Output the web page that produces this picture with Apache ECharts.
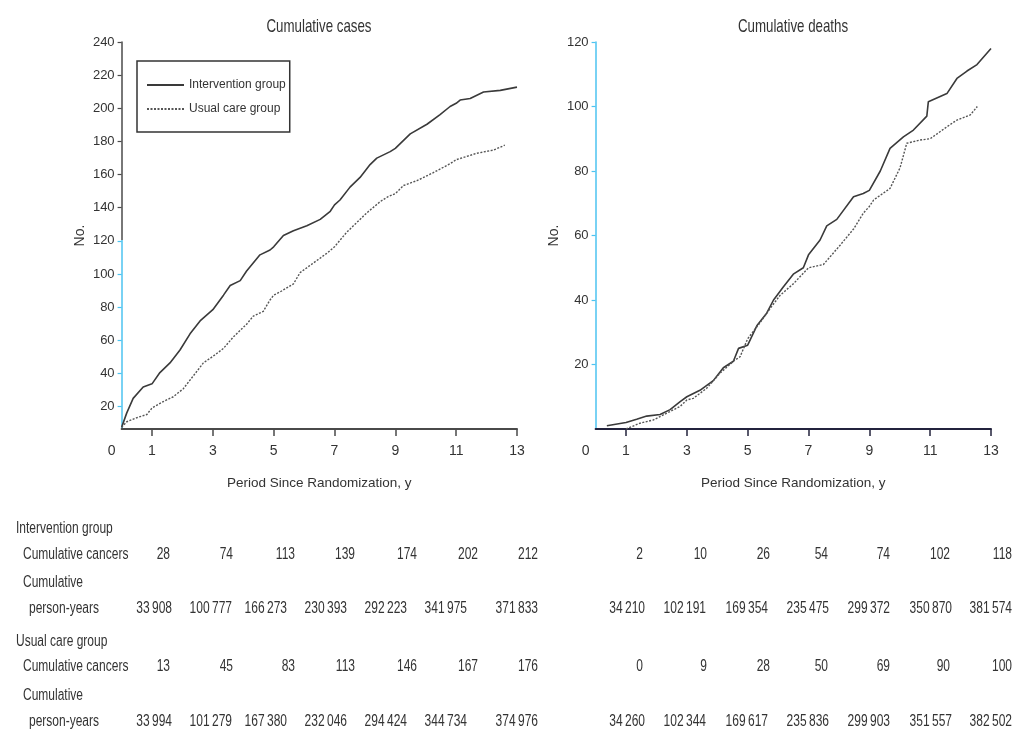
<!DOCTYPE html>
<html>
<head>
<meta charset="utf-8">
<script src="https://cdn.jsdelivr.net/npm/echarts@6/dist/echarts.min.js"></script>
<style>
  html, body { margin: 0; padding: 0; background: #ffffff; }
  #chart { width: 1015px; height: 743px; }
</style>
</head>
<body>
<div id="chart"></div>
<script>
// ---- Cumulative cases (years since randomization, count) ----
const casesInterventionYears = [0, 0.17, 0.38, 0.71, 1, 1.26, 1.59, 1.92, 2.25, 2.58, 3, 3.35, 3.57, 3.9, 4.11, 4.55, 4.88, 5, 5.32, 5.65, 6.09, 6.53, 6.86, 7, 7.18, 7.51, 7.84, 8.17, 8.39, 8.83, 9, 9.16, 9.49, 10.04, 10.47, 10.8, 11, 11.13, 11.46, 11.9, 12.45, 13];
const casesInterventionCounts = [1, 10, 19, 26, 28, 35, 41, 49, 59, 67, 74, 83, 89, 92, 98, 108, 111, 113, 120, 123, 126, 130, 135, 139, 142, 150, 156, 164, 168, 172, 174, 177, 183, 189, 195, 200, 202, 204, 205, 209, 210, 212];

const casesUsualYears = [0, 0.17, 0.5, 0.83, 1, 1.37, 1.7, 2.03, 2.36, 2.69, 3, 3.35, 3.67, 4.11, 4.33, 4.66, 4.88, 5, 5.21, 5.65, 5.87, 6.31, 6.75, 7, 7.4, 7.73, 8.06, 8.5, 8.75, 9, 9.27, 9.71, 10.25, 10.8, 11, 11.68, 12.23, 12.6];
const casesUsualCounts = [1, 4.5, 7, 9, 13, 17, 20, 25, 33, 41, 45, 50, 57, 65, 70, 73, 80, 83, 85, 90, 97, 103, 109, 113, 122, 128, 134, 141, 144, 146, 151, 154, 159, 164.5, 167, 171, 173, 176];

// ---- Cumulative deaths ----
const deathsInterventionYears = [0.37, 1, 1.35, 1.68, 2.12, 2.45, 2.78, 3, 3.43, 3.87, 4.2, 4.53, 4.7, 5, 5.3, 5.63, 5.85, 6.17, 6.5, 6.83, 7, 7.38, 7.6, 7.93, 8.48, 8.8, 9, 9.36, 9.68, 10.12, 10.45, 10.89, 10.94, 11, 11.55, 11.88, 12.21, 12.54, 13];
const deathsInterventionCounts = [1, 2, 3, 4, 4.5, 6, 8.5, 10, 12, 15, 19, 21, 25, 26, 32, 36, 40, 44, 48, 50, 54, 58.6, 63, 65, 72, 73, 74, 80, 87, 90.6, 92.7, 97, 101.5, 102, 104, 108.7, 111, 113, 118];

const deathsUsualYears = [1, 1.46, 1.9, 2.34, 2.78, 3, 3.21, 3.65, 4.09, 4.53, 4.75, 5, 5.41, 5.74, 6.07, 6.5, 6.83, 7, 7.49, 7.71, 8.04, 8.48, 8.8, 9, 9.14, 9.68, 10.01, 10.23, 10.67, 11, 11.55, 11.88, 12.32, 12.55];
const deathsUsualCounts = [0, 1.8, 2.8, 4.9, 7, 9, 9.5, 12.6, 17.3, 21, 22.4, 28, 33, 37.4, 41.5, 45, 48.3, 50, 51, 53.4, 57, 62, 66.9, 69, 71, 74.6, 81, 88.6, 89.6, 90, 93.7, 95.8, 97.4, 100];

// ---- Axis tick labels ----
const xTickValues = [1, 3, 5, 7, 9, 11, 13];
const xLabelValues = [0, 1, 3, 5, 7, 9, 11, 13];
const casesTickValues = [20, 40, 60, 80, 100, 120, 140, 160, 180, 200, 220, 240];
const deathsTickValues = [20, 40, 60, 80, 100, 120];

// ---- Titles and table beneath the plots ----
const panelTitles = ['Cumulative cases', 'Cumulative deaths'];
const rowLabels = ['Intervention group', 'Cumulative cancers', 'Cumulative', 'person-years', 'Usual care group', 'Cumulative cancers', 'Cumulative', 'person-years'];
const casesInterventionCancers = ['28', '74', '113', '139', '174', '202', '212'];
const casesInterventionPersonYears = ['33\u2009908', '100\u2009777', '166\u2009273', '230\u2009393', '292\u2009223', '341\u2009975', '371\u2009833'];
const casesUsualCancers = ['13', '45', '83', '113', '146', '167', '176'];
const casesUsualPersonYears = ['33\u2009994', '101\u2009279', '167\u2009380', '232\u2009046', '294\u2009424', '344\u2009734', '374\u2009976'];
const deathsInterventionCancers = ['2', '10', '26', '54', '74', '102', '118'];
const deathsInterventionPersonYears = ['34\u2009210', '102\u2009191', '169\u2009354', '235\u2009475', '299\u2009372', '350\u2009870', '381\u2009574'];
const deathsUsualCancers = ['0', '9', '28', '50', '69', '90', '100'];
const deathsUsualPersonYears = ['34\u2009260', '102\u2009344', '169\u2009617', '235\u2009836', '299\u2009903', '351\u2009557', '382\u2009502'];

const FONT = "'Liberation Sans', Arial, sans-serif";
const TEXT = '#333333';
const GRAY_AXIS = '#4a4a4a';
const BLUE_AXIS = '#4cc3f0';
const NAVY_AXIS = '#23233d';

const zip = (xs, ys) => xs.map((x, i) => [x, ys[i]]);

// left y-axis is grey above the 140 tick and blue below it
const splitY = 240 / 743;
const leftAxisColor = {
  type: 'linear', x: 0, y: 0, x2: 0, y2: 743, global: true,
  colorStops: [
    { offset: 0, color: GRAY_AXIS },
    { offset: splitY, color: GRAY_AXIS },
    { offset: splitY, color: BLUE_AXIS },
    { offset: 1, color: BLUE_AXIS }
  ]
};

function xAxisFor(gridIndex, lineColor) {
  return {
    type: 'value', gridIndex, min: 0, max: 13,
    splitLine: { show: false },
    axisLine: { show: true, onZero: false, lineStyle: { color: lineColor, width: 2 } },
    axisTick: { show: true, customValues: xTickValues, length: 7, lineStyle: { color: lineColor, width: 1.5 } },
    axisLabel: {
      customValues: xLabelValues, margin: 15,
      fontFamily: FONT, fontSize: 14, color: TEXT,
      formatter: v => (v === 0 ? '{o|0}' : String(v)),
      rich: { o: { fontFamily: FONT, fontSize: 14, color: TEXT, padding: [0, 20, 0, 0] } }
    },
    name: 'Period Since Randomization, y',
    nameLocation: 'middle', nameGap: 47,
    nameTextStyle: { fontFamily: FONT, fontSize: 13.5, color: TEXT }
  };
}

function yAxisFor(gridIndex, min, max, ticks, color) {
  return {
    type: 'value', gridIndex, min, max, position: 'left',
    splitLine: { show: false },
    axisLine: { show: true, onZero: false, lineStyle: { color, width: 1.5 } },
    axisTick: { show: true, customValues: ticks, length: 4, lineStyle: { color, width: 1.2 } },
    axisLabel: { customValues: ticks, margin: 7, fontFamily: FONT, fontSize: 13, color: TEXT },
    name: 'No.', nameLocation: 'middle', nameRotate: 90, nameGap: 34,
    nameTextStyle: { fontFamily: FONT, fontSize: 14, color: TEXT }
  };
}

const solidStyle = { color: '#3a3a3a', width: 1.6, type: 'solid' };
const dashStyle = { color: '#555555', width: 1.4, type: [2, 1.5] };

function lineSeries(name, xIdx, yIdx, data, style) {
  return {
    type: 'line', name, xAxisIndex: xIdx, yAxisIndex: yIdx,
    data, symbol: 'none', showSymbol: false, smooth: false,
    lineStyle: style, itemStyle: { color: style.color }, z: 3
  };
}

// condensed text drawn as graphic elements
const graphics = [];
function addText(text, x, y, size, scaleX, align) {
  graphics.push({
    type: 'text', x, y, scaleX, silent: true,
    style: { text, fill: TEXT, font: size + 'px ' + FONT, align, verticalAlign: 'middle' }
  });
}
addText(panelTitles[0], 319, 27, 19, 0.7, 'center');
addText(panelTitles[1], 793, 27, 19, 0.7, 'center');

const rowY = [529, 555, 583, 609, 642, 667, 696, 722];
const rowX = [16, 23, 23, 29, 16, 23, 23, 29];
rowLabels.forEach((t, i) => addText(t, rowX[i], rowY[i], 16, 0.75, 'left'));

function addRow(values, xs, y) {
  values.forEach((t, i) => addText(t, xs[i], y, 16, 0.75, 'right'));
}
const leftCancerX = [170, 233, 295, 355, 417, 478, 538];
const leftPyX = [172, 232, 287, 347, 407, 467, 538];
const rightCancerX = [643, 707, 770, 828, 890, 950, 1012];
const rightPyX = [645, 706, 768, 829, 890, 952, 1012];
addRow(casesInterventionCancers, leftCancerX, rowY[1]);
addRow(casesInterventionPersonYears, leftPyX, rowY[3]);
addRow(casesUsualCancers, leftCancerX, rowY[5]);
addRow(casesUsualPersonYears, leftPyX, rowY[7]);
addRow(deathsInterventionCancers, rightCancerX, rowY[1]);
addRow(deathsInterventionPersonYears, rightPyX, rowY[3]);
addRow(deathsUsualCancers, rightCancerX, rowY[5]);
addRow(deathsUsualPersonYears, rightPyX, rowY[7]);

const chart = echarts.init(document.getElementById('chart'), null, { renderer: 'canvas' });
chart.setOption({
  animation: false,
  backgroundColor: '#ffffff',
  legend: {
    data: ['Intervention group', 'Usual care group'],
    orient: 'vertical', left: 137, top: 61,
    itemWidth: 37, itemHeight: 14, itemGap: 12,
    padding: [18, 4, 17, 9],
    borderColor: '#333333', borderWidth: 1.5,
    itemStyle: { opacity: 0 },
    textStyle: { fontFamily: FONT, fontSize: 12, color: TEXT }
  },
  grid: [
    { left: 121.6, top: 42, width: 395.4, height: 387 },
    { left: 595.6, top: 42, width: 395.4, height: 387 }
  ],
  xAxis: [xAxisFor(0, GRAY_AXIS), xAxisFor(1, NAVY_AXIS)],
  yAxis: [
    yAxisFor(0, 6.5, 240, casesTickValues, leftAxisColor),
    { type: 'value', gridIndex: 0, min: 0, max: 240, show: false },
    yAxisFor(1, 0, 120, deathsTickValues, BLUE_AXIS)
  ],
  series: [
    lineSeries('Intervention group', 0, 1, zip(casesInterventionYears, casesInterventionCounts), solidStyle),
    lineSeries('Usual care group', 0, 1, zip(casesUsualYears, casesUsualCounts), dashStyle),
    lineSeries('Intervention group', 1, 2, zip(deathsInterventionYears, deathsInterventionCounts), solidStyle),
    lineSeries('Usual care group', 1, 2, zip(deathsUsualYears, deathsUsualCounts), dashStyle)
  ],
  graphic: graphics
});
</script>
</body>
</html>
